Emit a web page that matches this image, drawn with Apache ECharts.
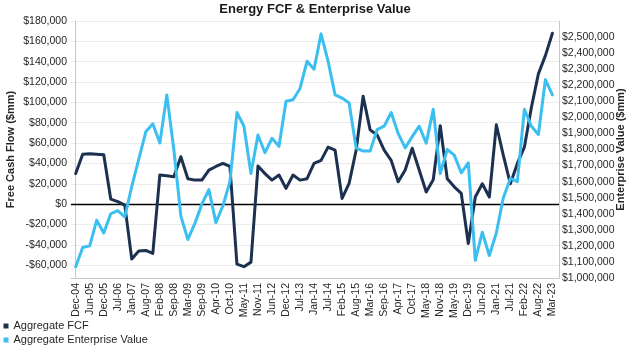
<!DOCTYPE html>
<html><head><meta charset="utf-8">
<script src="https://cdn.jsdelivr.net/npm/echarts@6/dist/echarts.min.js"></script>
<style>html,body{margin:0;padding:0;background:#fff}#c{width:630px;height:348px}</style>
</head><body><div id="c"></div>
<script>
const dates = ['Dec-04','Mar-05','Jun-05','Sep-05','Dec-05','Apr-06','Jul-06','Oct-06','Jan-07','May-07',
  'Aug-07','Nov-07','Feb-08','Jun-08','Sep-08','Dec-08','Mar-09','Jun-09','Sep-09','Jan-10',
  'Apr-10','Jul-10','Oct-10','Feb-11','May-11','Aug-11','Nov-11','Mar-12','Jun-12','Sep-12',
  'Dec-12','Apr-13','Jul-13','Oct-13','Jan-14','Apr-14','Jul-14','Nov-14','Feb-15','May-15',
  'Aug-15','Dec-15','Mar-16','Jun-16','Sep-16','Jan-17','Apr-17','Jul-17','Oct-17','Feb-18',
  'May-18','Aug-18','Nov-18','Feb-19','May-19','Sep-19','Dec-19','Mar-20','Jun-20','Oct-20',
  'Jan-21','Apr-21','Jul-21','Nov-21','Feb-22','May-22','Aug-22','Dec-22','Mar-23'];

const fcf = [30000,49000,49500,49000,48500,5000,2500,-1000,-54000,-46000,
  -45500,-48500,28600,28000,27000,46600,25000,23600,23600,33500,
  37000,40000,37000,-59000,-61500,-57000,37400,30000,23600,28600,
  15500,28600,23600,25000,40000,43000,56000,53000,5600,20400,
  53000,106000,73000,68000,53000,43000,22000,33500,55000,33500,
  12000,24000,77000,25000,17000,10500,-38700,7000,20000,7000,
  78000,48000,20000,40000,56000,95000,128000,146000,168000];

const ev = [1070000,1190000,1200000,1360000,1280000,1400000,1420000,1380000,1570000,1740000,
  1910000,1960000,1840000,2140000,1800000,1385000,1240000,1340000,1460000,1550000,
  1345000,1450000,1600000,2030000,1945000,1650000,1890000,1780000,1870000,1820000,
  2100000,2110000,2180000,2350000,2300000,2520000,2350000,2140000,2120000,2090000,
  1810000,1790000,1790000,1924000,1945000,2030000,1900000,1810000,1880000,1945000,
  1840000,2050000,1650000,1800000,1765000,1655000,1717000,1110000,1285000,1140000,
  1280000,1500000,1620000,1600000,2050000,1945000,1893000,2235000,2140000];

const fcfTicks = [-60000,-40000,-20000,0,20000,40000,60000,80000,100000,120000,140000,160000,180000];
const dateLabelIdx = dates.map((d, i) => i).filter(i => i % 2 === 0);

const FONT = '"Liberation Sans", Arial, sans-serif';
const DARK = '#1c3050';
const LIGHT = '#3bbff0';
const TXT = '#262626';

function money(v) {
  const s = '$' + String(Math.abs(Math.round(v))).replace(/\B(?=(\d{3})+(?!\d))/g, ',');
  return v < 0 ? '-' + s : s;
}

const chart = echarts.init(document.getElementById('c'), null, { renderer: 'canvas' });
chart.setOption({
  animation: false,
  backgroundColor: '#ffffff',
  textStyle: { fontFamily: FONT },
  title: {
    text: 'Energy FCF & Enterprise Value', left: 'center', top: 3, padding: 0,
    textStyle: { fontSize: 13, fontWeight: 'bold', color: '#1a1a1a', fontFamily: FONT }
  },
  legend: {
    orient: 'vertical', left: 3.5, top: 320.5, height: 40, padding: 0,
    itemWidth: 5, itemHeight: 5, itemGap: 3, icon: 'rect',
    textStyle: { fontSize: 11, color: TXT, lineHeight: 11, fontFamily: FONT },
    data: ['Aggregate FCF', 'Aggregate Enterprise Value']
  },
  grid: { left: 71, right: 71, top: 21, bottom: 70, containLabel: false, outerBoundsMode: 'none' },
  xAxis: {
    type: 'value', min: -0.67, max: 68.94,
    axisLine: { show: true, onZero: false, lineStyle: { color: '#c8c8c8', width: 1 } },
    axisTick: { show: false, customValues: dateLabelIdx },
    splitLine: { show: false },
    axisLabel: {
      customValues: dateLabelIdx, formatter: v => dates[v], rotate: 90,
      fontSize: 10.5, color: TXT, margin: 5, fontFamily: FONT
    }
  },
  yAxis: [
    {
      type: 'value', position: 'left', min: -72600, max: 180000,
      name: 'Free Cash Flow ($mm)', nameLocation: 'middle', nameGap: 55, nameRotate: 90,
      nameMoveOverlap: false,
      nameTextStyle: { fontSize: 11, fontWeight: 'bold', color: TXT, fontFamily: FONT },
      axisLine: { show: true, lineStyle: { color: '#c8c8c8', width: 1 } },
      axisTick: { show: false, customValues: fcfTicks },
      axisLabel: { customValues: fcfTicks, formatter: money, fontSize: 10.5, color: TXT, margin: 4, fontFamily: FONT },
      splitLine: { show: true, lineStyle: { color: '#ebebeb', width: 1 } }
    },
    {
      type: 'value', position: 'right', min: 1000000, max: 2600000, interval: 100000,
      name: 'Enterprise Value ($mm)', nameLocation: 'middle', nameGap: 56, nameRotate: 90,
      nameMoveOverlap: false,
      nameTextStyle: { fontSize: 11, fontWeight: 'bold', color: TXT, fontFamily: FONT },
      axisLine: { show: true, lineStyle: { color: '#c8c8c8', width: 1 } },
      axisTick: { show: false },
      axisLabel: { showMaxLabel: false, formatter: money, fontSize: 10.5, color: TXT, margin: 3, fontFamily: FONT },
      splitLine: { show: false }
    }
  ],
  series: [
    {
      name: 'Aggregate FCF', type: 'line', yAxisIndex: 0,
      data: fcf.map((v, i) => [i, v]), symbol: 'none',
      lineStyle: { color: DARK, width: 3, join: 'round', cap: 'round' }, itemStyle: { color: DARK },
      markLine: {
        silent: true, symbol: 'none', z: 1, label: { show: false },
        lineStyle: { color: '#000000', width: 1.3, type: 'solid' },
        data: [{ yAxis: 0 }]
      }
    },
    {
      name: 'Aggregate Enterprise Value', type: 'line', yAxisIndex: 1,
      data: ev.map((v, i) => [i, v]), symbol: 'none',
      lineStyle: { color: LIGHT, width: 3, join: 'round', cap: 'round' }, itemStyle: { color: LIGHT }
    }
  ]
});
</script></body></html>
